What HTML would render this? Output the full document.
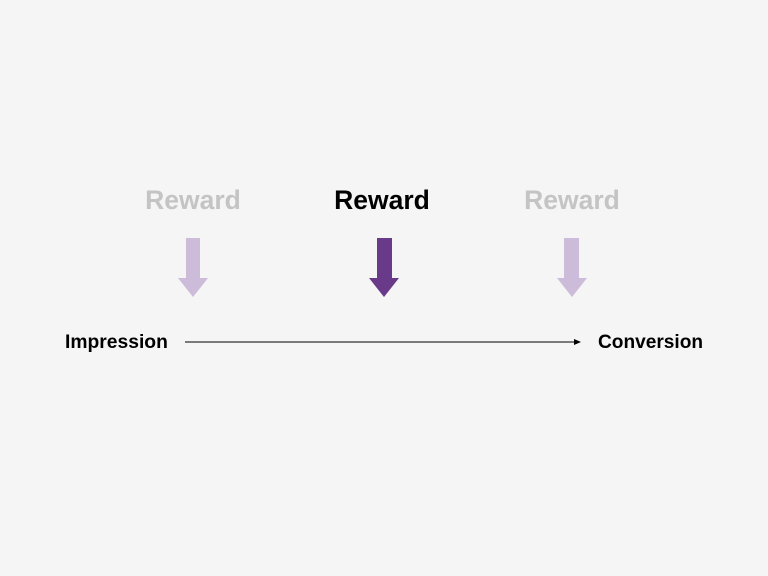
<!DOCTYPE html>
<html><head><style>
html,body{margin:0;padding:0;background:#f5f5f5;}
body{width:768px;height:576px;overflow:hidden;position:relative;font-family:"Liberation Sans",sans-serif;}
</style></head><body>
<svg width="768" height="576" style="position:absolute;left:0;top:0">
<g font-family="Liberation Sans, sans-serif" font-weight="bold">
<text x="193" y="209" font-size="26.5" fill="#c4c4c4" text-anchor="middle">Reward</text>
<text x="382" y="209" font-size="26.5" fill="#000" text-anchor="middle">Reward</text>
<text x="572" y="209" font-size="26.5" fill="#c4c4c4" text-anchor="middle">Reward</text>
<text x="65" y="348" font-size="19.3" fill="#000">Impression</text>
<text x="598" y="348" font-size="19.1" fill="#000">Conversion</text>
</g>
<polygon points="186,238 200,238 200,278 208,278 193,297 178,278 186,278" fill="#ccbbd9"/>
<polygon points="377,238 392,238 392,278 399,278 384,297 369,278 377,278" fill="#6a3a8a"/>
<polygon points="564,238 579,238 579,278 587,278 572,297 557,278 564,278" fill="#ccbbd9"/>
<line x1="185" y1="342" x2="575" y2="342" stroke="#000" stroke-width="1"/>
<polygon points="581,342 574,339 574,345" fill="#000"/>
</svg>
</body></html>
